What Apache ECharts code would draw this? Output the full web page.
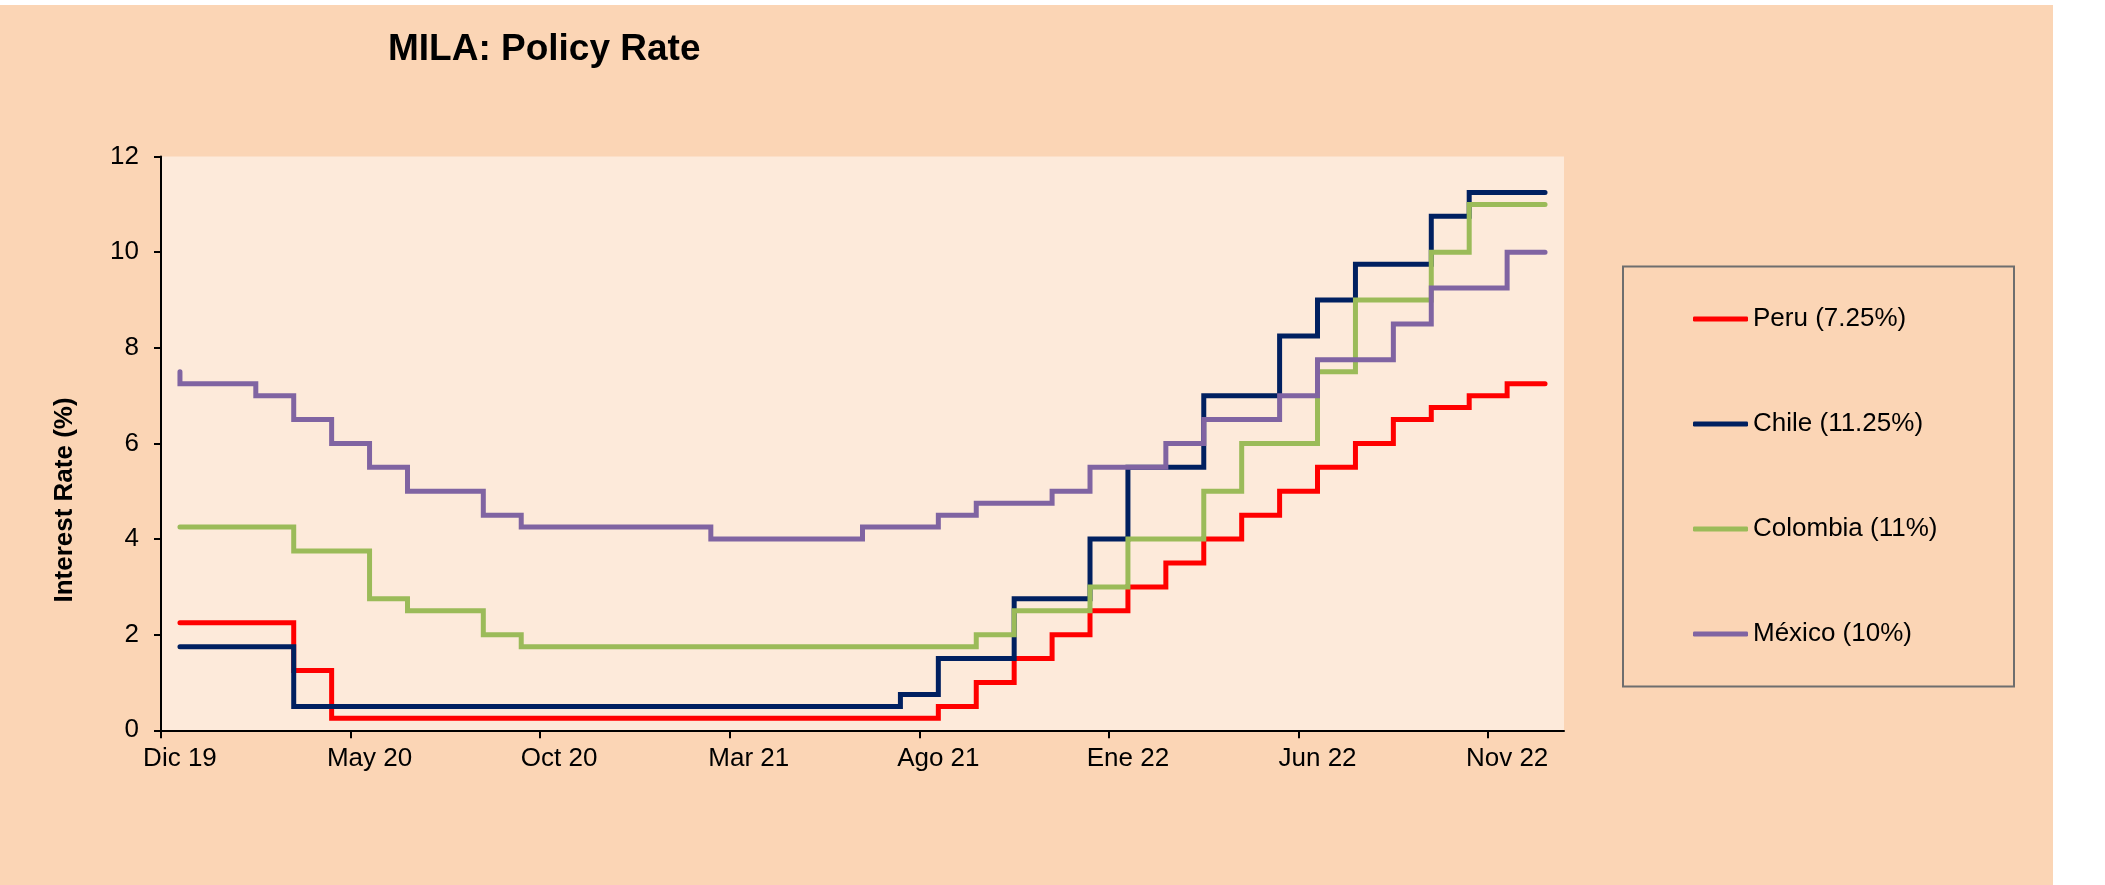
<!DOCTYPE html>
<html><head><meta charset="utf-8">
<script src="https://cdn.jsdelivr.net/npm/echarts@6/dist/echarts.min.js"></script>
<style>
html,body{margin:0;padding:0;background:#ffffff;width:2105px;height:885px;overflow:hidden}
#bg{position:absolute;left:0;top:5px;width:2053px;height:880px;background:#FBD5B5}
#chart{position:absolute;left:0;top:0;width:2105px;height:885px}
</style></head><body>
<div id="bg"></div><div id="chart"></div>
<script>
const categories = ['Dic 19','Ene 20','Feb 20','Mar 20','Abr 20','May 20','Jun 20','Jul 20','Ago 20','Sep 20','Oct 20','Nov 20','Dic 20',
  'Ene 21','Feb 21','Mar 21','Abr 21','May 21','Jun 21','Jul 21','Ago 21','Sep 21','Oct 21','Nov 21','Dic 21',
  'Ene 22','Feb 22','Mar 22','Abr 22','May 22','Jun 22','Jul 22','Ago 22','Sep 22','Oct 22','Nov 22','Dic 22'];
const labelIndexes = [0,5,10,15,20,25,30,35];
const yTicks = [0,2,4,6,8,10,12];

const peru =     [2.25,2.25,2.25,1.25,0.25,0.25,0.25,0.25,0.25,0.25,0.25,0.25,0.25,0.25,0.25,0.25,0.25,0.25,0.25,0.25,
                  0.5,1.0,1.5,2.0,2.5,3.0,3.5,4.0,4.5,5.0,5.5,6.0,6.5,6.75,7.0,7.25,7.25];
const chile =    [1.75,1.75,1.75,0.5,0.5,0.5,0.5,0.5,0.5,0.5,0.5,0.5,0.5,0.5,0.5,0.5,0.5,0.5,0.5,0.75,
                  1.5,1.5,2.75,2.75,4.0,5.5,5.5,7.0,7.0,8.25,9.0,9.75,9.75,10.75,11.25,11.25,11.25];
const colombia = [4.25,4.25,4.25,3.75,3.75,2.75,2.5,2.5,2.0,1.75,1.75,1.75,1.75,1.75,1.75,1.75,1.75,1.75,1.75,1.75,
                  1.75,2.0,2.5,2.5,3.0,4.0,4.0,5.0,6.0,6.0,7.5,9.0,9.0,10.0,11.0,11.0,11.0];
const mexicoStart = 7.5;
const mexico =   [7.25,7.25,7.0,6.5,6.0,5.5,5.0,5.0,4.5,4.25,4.25,4.25,4.25,4.25,4.0,4.0,4.0,4.0,4.25,4.25,
                  4.5,4.75,4.75,5.0,5.5,5.5,6.0,6.5,6.5,7.0,7.75,7.75,8.5,9.25,9.25,10.0,10.0];

const seriesNames = ['Peru (7.25%)','Chile (11.25%)','Colombia (11%)','México (10%)'];
const seriesColors = ['#FF0000','#002060','#9BBB59','#8064A2'];

const FONT = "'Liberation Sans', Arial, sans-serif";
const toPairs = arr => arr.map((v, i) => [i, v]);
const mexicoPairs = [[0, mexicoStart]].concat(toPairs(mexico));
const seriesData = [toPairs(peru), toPairs(chile), toPairs(colombia), mexicoPairs];

const chart = echarts.init(document.getElementById('chart'), null, {renderer: 'canvas'});
chart.setOption({
  backgroundColor: 'transparent',
  animation: false,
  title: {
    text: 'MILA: Policy Rate',
    left: 388, top: 31, padding: 0,
    textStyle: {fontFamily: FONT, fontWeight: 'bold', fontSize: 37, color: '#000'}
  },
  grid: {
    left: 161, top: 156.6, right: 541, bottom: 154.7,
    show: true, backgroundColor: '#FDEADA', borderWidth: 0
  },
  legend: {
    orient: 'vertical', left: 1693, top: 304, padding: 0,
    itemGap: 75, itemWidth: 55, itemHeight: 5, icon: 'roundRect',
    data: seriesNames,
    textStyle: {fontFamily: FONT, fontSize: 26, color: '#000', lineHeight: 30}
  },
  graphic: [
    {type: 'rect', shape: {x: 1623, y: 266.5, width: 391, height: 420},
     style: {fill: 'none', stroke: '#6E6E6E', lineWidth: 2}, silent: true},
    {type: 'text', x: 64.5, y: 500, rotation: Math.PI / 2,
     style: {text: 'Interest Rate (%)', fontFamily: FONT, fontWeight: 'bold', fontSize: 26,
             fill: '#000', align: 'center', verticalAlign: 'middle'}}
  ],
  xAxis: {
    type: 'value', min: -0.5, max: categories.length - 0.5,
    axisLine: {show: true, onZero: false, lineStyle: {color: '#000', width: 2}},
    axisTick: {show: true, length: 8, lineStyle: {color: '#000', width: 2},
               customValues: labelIndexes.map(i => i - 0.5)},
    axisLabel: {customValues: labelIndexes, formatter: v => categories[Math.round(v)],
                fontFamily: FONT, fontSize: 26, color: '#000', margin: 16},
    splitLine: {show: false}
  },
  yAxis: {
    type: 'value', min: 0, max: 12, interval: 2,
    axisLine: {show: true, onZero: false, lineStyle: {color: '#000', width: 2}},
    axisTick: {show: true, length: 7, lineStyle: {color: '#000', width: 2}},
    axisLabel: {fontFamily: FONT, fontSize: 26, color: '#000', margin: 22,
                formatter: v => yTicks.includes(v) ? String(v) : ''},
    splitLine: {show: false}
  },
  series: seriesNames.map((name, i) => ({
    name: name, type: 'line', step: 'end', data: seriesData[i],
    showSymbol: false, symbol: 'none',
    color: seriesColors[i],
    lineStyle: {color: seriesColors[i], width: 5, cap: 'round', join: 'miter'}
  }))
});
</script>
</body></html>
